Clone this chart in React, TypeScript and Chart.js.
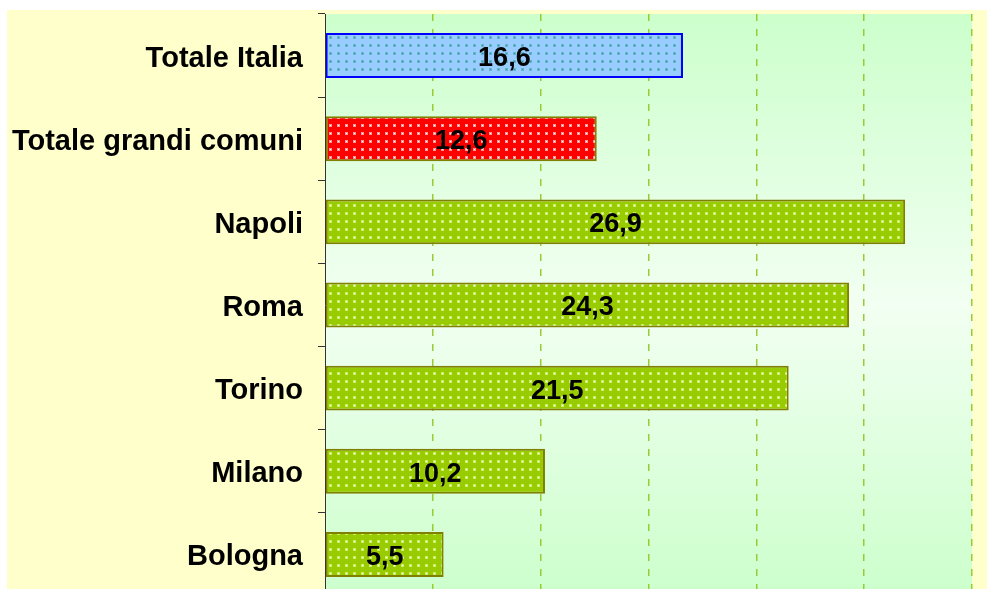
import React, { useEffect, useRef } from "react";
import { Chart, registerables } from "chart.js";

Chart.register(...registerables);

const categories = [
  "Totale Italia",
  "Totale grandi comuni",
  "Napoli",
  "Roma",
  "Torino",
  "Milano",
  "Bologna",
];
const values = [16.6, 12.6, 26.9, 24.3, 21.5, 10.2, 5.5];
const xMin = 0;
const xMax = 30;
const xStep = 5;

function makePattern(bg: string, dot: string, halo: string): CanvasPattern | string {
  const c = document.createElement("canvas");
  c.width = 8;
  c.height = 8;
  const ctx = c.getContext("2d");
  if (!ctx) return bg;
  ctx.fillStyle = bg;
  ctx.fillRect(0, 0, 8, 8);
  ctx.fillStyle = halo;
  ctx.fillRect(2, 2, 3, 3);
  ctx.fillStyle = dot;
  ctx.fillRect(3, 3, 1, 1);
  const p = ctx.createPattern(c, "repeat");
  return p || bg;
}

export default function App() {
  const ref = useRef<HTMLCanvasElement | null>(null);

  useEffect(() => {
    const canvas = ref.current;
    if (!canvas) return;

    const blue = makePattern("#99CCFF", "#2E9A9A", "#66B3CC");
    const red = makePattern("#FF0000", "#FFFFFF", "#FF9999");
    const green = makePattern("#99CC00", "#FFFFFF", "#CCEE66");

    const fills = categories.map((_, i) => (i === 0 ? blue : i === 1 ? red : green));
    const borders = categories.map((_, i) => (i === 0 ? "#0000FF" : "#808000"));

    const bgPlugin = {
      id: "bgPlugin",
      beforeDraw(chart: any) {
        const { ctx, chartArea } = chart;
        ctx.save();
        ctx.fillStyle = "#FFFFCC";
        ctx.fillRect(0, 0, chart.width, chart.height);
        const g = ctx.createLinearGradient(0, chartArea.top, 0, chartArea.bottom);
        g.addColorStop(0, "#CCFFCC");
        g.addColorStop(0.5, "#F2FFF2");
        g.addColorStop(1, "#CCFFCC");
        ctx.fillStyle = g;
        ctx.fillRect(
          chartArea.left,
          chartArea.top,
          chartArea.right - chartArea.left,
          chartArea.bottom - chartArea.top
        );
        ctx.restore();
      },
    };

    const labelPlugin = {
      id: "valueLabels",
      afterDatasetsDraw(chart: any) {
        const { ctx } = chart;
        const meta = chart.getDatasetMeta(0);
        ctx.save();
        ctx.font = "bold 27px 'Liberation Sans', Arial, sans-serif";
        ctx.fillStyle = "#000000";
        ctx.textAlign = "center";
        ctx.textBaseline = "middle";
        meta.data.forEach((bar: any, i: number) => {
          const cx = (bar.x + bar.base) / 2;
          const txt = values[i].toFixed(1).replace(".", ",");
          ctx.fillText(txt, cx, bar.y + 3);
        });
        ctx.restore();
      },
    };

    const chart = new Chart(canvas, {
      type: "bar",
      data: {
        labels: categories,
        datasets: [
          {
            data: values,
            backgroundColor: fills as any,
            borderColor: borders,
            borderWidth: 2,
            borderSkipped: false,
            barPercentage: 0.54,
            categoryPercentage: 1,
          },
        ],
      },
      options: {
        indexAxis: "y",
        responsive: false,
        animation: false,
        layout: { padding: { top: 4, right: 15, left: 0, bottom: 4 } },
        plugins: {
          legend: { display: false },
          tooltip: { enabled: false },
          title: { display: false },
        },
        scales: {
          x: {
            min: xMin,
            max: xMax,
            ticks: { display: false, stepSize: xStep },
            grid: {
              drawTicks: false,
              lineWidth: 1.5,
              color: (c: any) => (c.index === 0 ? "rgba(0,0,0,0)" : "#99CC33"),
            },
            border: { display: false, dash: [7, 8] },
            afterFit: (scale: any) => {
              scale.height = 0;
              scale.paddingLeft = 0;
              scale.paddingRight = 0;
            },
          },
          y: {
            afterFit: (scale: any) => {
              scale.width = 318;
              scale.paddingTop = 0;
              scale.paddingBottom = 0;
            },
            ticks: {
              color: "#000000",
              padding: 15,
              labelOffset: 3,
              font: { family: "'Liberation Sans', Arial, sans-serif", size: 29, weight: "bold" },
            },
            grid: {
              display: true,
              drawOnChartArea: false,
              drawTicks: true,
              tickLength: 7,
              tickColor: "#333333",
              offset: true,
            },
            border: { display: true, color: "#333333", width: 1 },
          },
        },
      },
      plugins: [bgPlugin, labelPlugin],
    });

    return () => chart.destroy();
  }, []);

  return (
    <div
      style={{
        position: "fixed",
        left: 0,
        top: 0,
        width: 987,
        height: 589,
        overflow: "hidden",
        background: "#FFFFFF",
      }}
    >
      <canvas
        ref={ref}
        width={980}
        height={590}
        style={{ position: "absolute", left: 7, top: 10, width: 980, height: 590 }}
      />
    </div>
  );
}
